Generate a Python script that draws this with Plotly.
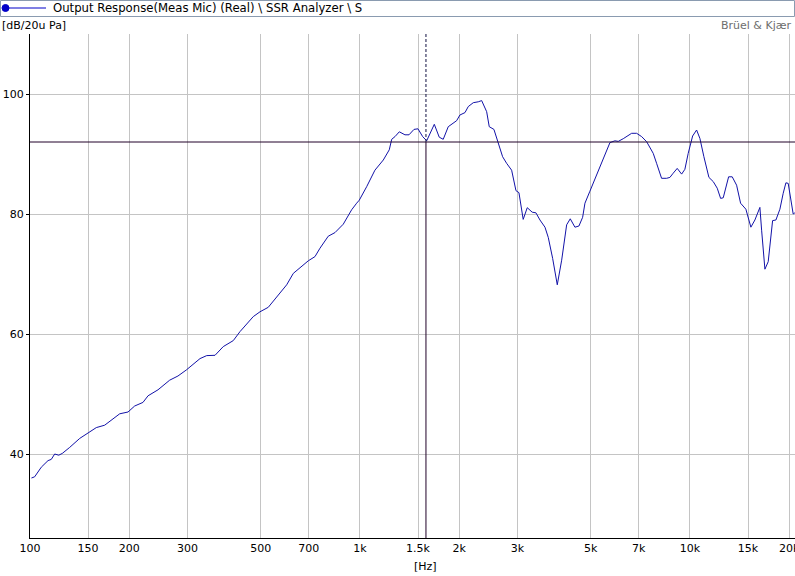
import plotly.graph_objects as go

# ---- data ----
freq_hz = [101, 103.3, 108.2, 113.4, 116.0, 118.8, 122.2, 125.3, 131.9, 141.5,
           149.9, 158.8, 168.4, 178.4, 187.0, 198.2, 207.6, 220.0, 227.9, 244.3,
           265.0, 280.8, 297.6, 327.5, 343.2, 363.7, 385.2, 413.1, 433.0, 475.0,
           497.7, 527.3, 565.3, 599.7, 628.0, 665.9, 697.3, 730.6, 756.6, 801.5,
           840.0, 890.0, 943.6, 977.2, 995.2, 1048, 1110, 1177, 1227, 1248,
           1277, 1316, 1369, 1408, 1458, 1499, 1549, 1593, 1630, 1680,
           1739, 1788, 1852, 1917, 1963, 2009, 2081, 2129, 2205, 2283,
           2338, 2421, 2465, 2547, 2625, 2706, 2783, 2882, 2970, 3033,
           3124, 3214, 3327, 3414, 3512, 3637, 3721, 3837, 3963, 4086,
           4231, 4339, 4483, 4610, 4730, 4807, 4977, 5216, 5462, 5723,
           5926, 6064, 6280, 6457, 6658, 6895, 7140, 7393, 7566, 7742,
           7925, 8207, 8499, 8697, 8899, 9152, 9437, 9656, 9881, 10190,
           10478, 10722, 11025, 11418, 11768, 12100, 12390, 12618, 13101, 13434,
           13852, 14243, 14780, 15303, 15739, 16297, 16493, 16877, 17270, 17808,
           18223, 18738, 19174, 19540, 19858, 20194, 20560, 20806]
level_db = [36.0, 36.2, 37.8, 38.9, 39.1, 40.0, 39.8, 40.1, 41.1, 42.6,
            43.5, 44.4, 44.8, 45.8, 46.7, 47.0, 48.0, 48.6, 49.7, 50.7,
            52.3, 53.0, 54.0, 55.9, 56.4, 56.45, 57.9, 58.9, 60.4, 62.9,
            63.7, 64.45, 66.5, 68.2, 70.1, 71.3, 72.2, 72.9, 74.3, 76.3,
            76.9, 78.3, 80.7, 81.8, 82.3, 84.55, 87.3, 89.0, 90.7, 92.45,
            92.9, 93.7, 93.2, 93.2, 94.1, 94.2, 92.9, 92.2, 93.45, 94.95,
            92.8, 92.45, 94.55, 95.2, 95.55, 96.5, 96.9, 97.9, 98.55, 98.7,
            98.9, 97.05, 94.55, 94.1, 91.8, 89.55, 88.45, 87.3, 83.9, 83.55,
            79.1, 81.05, 80.3, 80.2, 79.0, 77.8, 76.1, 72.6, 68.2, 72.3,
            78.2, 79.2, 77.8, 78.0, 79.45, 81.8, 83.8, 86.5, 89.3, 91.9,
            92.2, 92.1, 92.55, 93.0, 93.45, 93.45, 92.9, 92.05, 91.1, 90.1,
            88.45, 85.95, 85.95, 86.1, 86.8, 87.6, 86.65, 87.45, 90.1, 93.0,
            94.0, 92.6, 89.55, 86.1, 85.4, 84.3, 82.6, 82.7, 86.2, 86.2,
            84.8, 81.8, 80.8, 77.8, 79.0, 81.1, 77.3, 70.8, 72.05, 78.9,
            79.0, 80.8, 83.45, 85.2, 85.1, 82.3, 80.0, 80.2]

x_tick_vals = [100, 150, 200, 300, 500, 700, 1000, 1500, 2000, 3000, 5000, 7000, 10000, 15000, 20000]
x_tick_text = ["100", "150", "200", "300", "500", "700", "1k", "1.5k", "2k", "3k", "5k", "7k", "10k", "15k", "20k"]
y_tick_vals = [40, 60, 80, 100]

cursor_freq = 1585
cursor_level = 92.0

series_name = "Output Response(Meas Mic) (Real) \\ SSR Analyzer \\ S"

# ---- layout constants ----
W, H = 795, 576
ML, MR, MT, MB = 30, 0, 34, 38
PW, PH = W - ML - MR, H - MT - MB
FONT = "DejaVu Sans"
CURVE = "#1212a8"
CURSOR = "#200028"
GRID = "#c4c4c4"


def px(xp):
    return (xp - ML) / PW


def py(yp):
    return (H - MB - yp) / PH


fig = go.Figure()
fig.add_trace(go.Scatter(x=freq_hz, y=level_db, mode="lines",
                         line=dict(color=CURVE, width=1), name=series_name,
                         showlegend=False, hoverinfo="x+y"))

shapes = [
    # cursor: horizontal solid
    dict(type="line", xref="paper", yref="y", x0=0, x1=1, y0=cursor_level, y1=cursor_level,
         line=dict(color=CURSOR, width=1)),
    # cursor: vertical solid below level
    dict(type="line", xref="x", yref="y", x0=cursor_freq, x1=cursor_freq, y0=26, y1=cursor_level,
         line=dict(color=CURSOR, width=1)),
    # cursor: vertical dashed above level
    dict(type="line", xref="x", yref="y", x0=cursor_freq, x1=cursor_freq, y0=cursor_level, y1=110,
         line=dict(color="#101040", width=1, dash="3px,2px")),
    # legend frame
    dict(type="rect", xref="paper", yref="paper", x0=px(0.5), x1=px(794.5), y0=py(16.5), y1=py(0.5),
         line=dict(color="#8a9bb0", width=1), fillcolor="rgba(0,0,0,0)"),
    # legend line
    dict(type="line", xref="paper", yref="paper", x0=px(4), x1=px(46), y0=py(8), y1=py(8),
         line=dict(color="#0000c8", width=1)),
    # legend marker
    dict(type="circle", xref="paper", yref="paper", x0=px(2), x1=px(9), y0=py(11.5), y1=py(4.5),
         line=dict(color="#0000c8", width=1), fillcolor="#0000c8"),
]

annotations = [
    dict(text=series_name, xref="paper", yref="paper", x=px(51), y=py(8.5), xanchor="left",
         yanchor="middle", showarrow=False, font=dict(family=FONT, size=11.7, color="#000000")),
    dict(text="[dB/20u Pa]", xref="paper", yref="paper", x=px(0), y=py(25), xanchor="left",
         yanchor="middle", showarrow=False, font=dict(family=FONT, size=11, color="#000000")),
    dict(text="Brüel & Kjær", xref="paper", yref="paper", x=px(794), y=py(25), xanchor="right",
         yanchor="middle", showarrow=False, font=dict(family=FONT, size=11, color="#6e6e6e")),
    dict(text="[Hz]", xref="paper", yref="paper", x=px(425), y=py(566), xanchor="center",
         yanchor="middle", showarrow=False, font=dict(family=FONT, size=11, color="#000000")),
]

fig.update_layout(
    width=W, height=H,
    margin=dict(l=ML, r=MR, t=MT, b=MB, pad=0),
    paper_bgcolor="white", plot_bgcolor="white",
    font=dict(family=FONT, size=11, color="black"),
    showlegend=False,
    shapes=shapes,
    annotations=annotations,
    xaxis=dict(type="log", range=[2, 4.3185], tickvals=x_tick_vals, ticktext=x_tick_text,
               showgrid=True, gridcolor=GRID, gridwidth=1, zeroline=False,
               showline=True, linecolor="black", linewidth=1, ticks="", ticklen=0,
               ticklabeloverflow="allow", automargin=False,
               tickfont=dict(family=FONT, size=11, color="black")),
    yaxis=dict(range=[26, 110], tickvals=y_tick_vals, showgrid=True, gridcolor=GRID, gridwidth=1,
               zeroline=False, showline=True, linecolor="black", linewidth=1,
               ticks="outside", ticklen=3, tickcolor="black", automargin=False,
               tickfont=dict(family=FONT, size=11, color="black")),
)

fig.write_html("out.html", config={"displayModeBar": False},
               post_script="document.body.style.margin='0';document.body.style.overflow='hidden';")
